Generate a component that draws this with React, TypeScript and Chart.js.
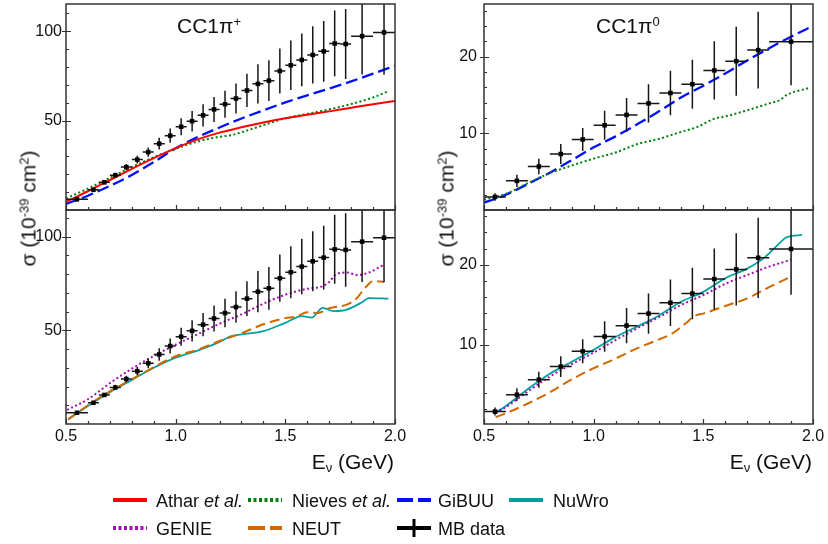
import React, { useEffect, useRef } from "react";
import { Chart, registerables } from "chart.js";

Chart.register(...registerables);

const FONT = "'Liberation Sans', Arial, Helvetica, sans-serif";

// ---------------- tick labels ----------------
const X_MAJOR_TICKS = [0.5, 1.0, 1.5, 2.0];
const X_MINOR_TICKS = [0.6, 0.7, 0.8, 0.9, 1.1, 1.2, 1.3, 1.4, 1.6, 1.7, 1.8, 1.9];
const PIP_Y_MAJOR_TICKS = [50, 100];
const PIP_Y_MINOR_TICKS = [10, 20, 30, 40, 60, 70, 80, 90, 110];
const PI0_Y_MAJOR_TICKS = [10, 20];
const PI0_Y_MINOR_TICKS = [2, 4, 6, 8, 12, 14, 16, 18, 22, 24, 26];

// ---------------- MiniBooNE CC1pi+ data ----------------
const PIP_E = [0.55, 0.625, 0.675, 0.725, 0.775, 0.825, 0.875, 0.925, 0.975, 1.025, 1.075, 1.125, 1.175, 1.225, 1.275, 1.325, 1.375, 1.425, 1.475, 1.525, 1.575, 1.625, 1.675, 1.725, 1.775, 1.85, 1.95];
const PIP_BIN_LO = [0.5, 0.6, 0.65, 0.7, 0.75, 0.8, 0.85, 0.9, 0.95, 1.0, 1.05, 1.1, 1.15, 1.2, 1.25, 1.3, 1.35, 1.4, 1.45, 1.5, 1.55, 1.6, 1.65, 1.7, 1.75, 1.8, 1.9];
const PIP_BIN_HI = [0.6, 0.65, 0.7, 0.75, 0.8, 0.85, 0.9, 0.95, 1.0, 1.05, 1.1, 1.15, 1.2, 1.25, 1.3, 1.35, 1.4, 1.45, 1.5, 1.55, 1.6, 1.65, 1.7, 1.75, 1.8, 1.9, 2.0];
const PIP_SIGMA = [6.0, 11.3, 15.5, 19.5, 24.0, 28.2, 32.4, 37.1, 41.6, 46.6, 49.7, 53.0, 56.3, 59.2, 62.4, 66.9, 70.6, 72.4, 77.8, 81.0, 84.0, 86.8, 88.8, 93.2, 92.9, 97.3, 99.4];
const PIP_ERR = [0.5, 0.8, 1.1, 1.4, 1.8, 2.2, 2.6, 3.3, 4.0, 4.8, 5.7, 6.2, 7.0, 7.6, 8.4, 9.3, 11.0, 11.4, 12.6, 13.9, 14.8, 16.0, 17.0, 18.4, 19.6, 21.5, 23.7];

// ---------------- MiniBooNE CC1pi0 data ----------------
const PI0_E = [0.55, 0.65, 0.75, 0.85, 0.95, 1.05, 1.15, 1.25, 1.35, 1.45, 1.55, 1.65, 1.75, 1.9];
const PI0_BIN_LO = [0.5, 0.6, 0.7, 0.8, 0.9, 1.0, 1.1, 1.2, 1.3, 1.4, 1.5, 1.6, 1.7, 1.8];
const PI0_BIN_HI = [0.6, 0.7, 0.8, 0.9, 1.0, 1.1, 1.2, 1.3, 1.4, 1.5, 1.6, 1.7, 1.8, 2.0];
const PI0_SIGMA = [1.7, 3.8, 5.67, 7.3, 9.2, 11.05, 12.4, 13.9, 15.25, 16.4, 18.2, 19.4, 20.85, 21.95];
const PI0_ERR = [0.5, 0.8, 1.0, 1.3, 1.5, 1.9, 2.2, 2.5, 2.9, 3.2, 3.8, 4.5, 5.0, 5.7];

// ---------------- CC1pi+ theory curves ----------------
const ATHAR_PIP_E = [0.5, 0.6, 0.7, 0.8, 0.9, 1.0, 1.1, 1.2, 1.3, 1.4, 1.5, 1.6, 1.7, 1.8, 1.9, 2.0];
const ATHAR_PIP_V = [4.5, 10.5, 16.8, 23.0, 29.0, 34.6, 39.5, 43.3, 46.3, 49.0, 51.3, 53.3, 55.2, 57.2, 59.2, 61.0];
const NIEVES_PIP_E = [0.5, 0.6, 0.7, 0.8, 0.9, 1.0, 1.1, 1.2, 1.25, 1.3, 1.4, 1.5, 1.6, 1.7, 1.8, 1.9, 1.97];
const NIEVES_PIP_V = [6.5, 12.0, 18.0, 24.0, 29.5, 34.3, 38.3, 41.0, 41.8, 43.5, 47.5, 51.3, 53.8, 56.3, 59.3, 63.0, 66.5];
const GIBUU_PIP_E = [0.5, 0.6, 0.7, 0.8, 0.9, 1.0, 1.1, 1.2, 1.3, 1.4, 1.5, 1.6, 1.7, 1.8, 1.9, 2.0];
const GIBUU_PIP_V = [3.4, 8.0, 13.5, 19.6, 26.8, 34.5, 40.8, 46.2, 51.2, 55.8, 60.2, 64.2, 68.0, 72.0, 76.3, 80.8];
const GENIE_PIP_E = [0.505, 0.6, 0.7, 0.8, 0.9, 1.0, 1.1, 1.2, 1.3, 1.4, 1.5, 1.6, 1.67, 1.7, 1.73, 1.78, 1.83, 1.88, 1.95];
const GENIE_PIP_V = [7.5, 13.2, 21.8, 29.5, 36.3, 42.3, 47.9, 53.5, 58.5, 64.2, 69.0, 72.2, 73.5, 75.8, 79.8, 80.8, 79.5, 80.8, 85.0];
const NEUT_PIP_E = [0.51, 0.6, 0.7, 0.8, 0.9, 1.0, 1.1, 1.2, 1.3, 1.4, 1.5, 1.55, 1.6, 1.65, 1.7, 1.78, 1.82, 1.87, 1.9, 1.95];
const NEUT_PIP_V = [2.5, 10.0, 17.4, 23.8, 30.3, 36.2, 39.6, 44.3, 48.4, 53.2, 56.5, 57.3, 59.6, 59.3, 61.8, 63.7, 66.5, 73.5, 76.3, 75.8];
const NUWRO_PIP_E = [0.51, 0.6, 0.7, 0.8, 0.9, 1.0, 1.1, 1.2, 1.25, 1.3, 1.4, 1.5, 1.575, 1.62, 1.67, 1.72, 1.78, 1.85, 1.88, 1.97];
const NUWRO_PIP_V = [2.5, 9.6, 17.0, 23.5, 30.0, 35.4, 39.2, 43.8, 46.8, 47.8, 49.6, 54.0, 57.6, 56.8, 62.0, 60.2, 61.0, 65.0, 67.2, 66.9];

// ---------------- CC1pi0 theory curves ----------------
const GIBUU_PI0_E = [0.5, 0.55, 0.6, 0.7, 0.8, 0.9, 1.0, 1.1, 1.2, 1.3, 1.4, 1.5, 1.6, 1.7, 1.8, 1.9, 2.0];
const GIBUU_PI0_V = [0.96, 1.43, 2.0, 3.39, 4.87, 6.5, 8.17, 9.6, 11.2, 12.9, 14.7, 16.2, 17.8, 19.5, 21.1, 22.6, 24.0];
const NIEVES_PI0_E = [0.5, 0.6, 0.7, 0.8, 0.9, 1.0, 1.1, 1.2, 1.3, 1.4, 1.47, 1.55, 1.6, 1.7, 1.8, 1.85, 1.88, 1.98];
const NIEVES_PI0_V = [1.35, 2.1, 3.5, 4.8, 5.8, 6.7, 7.5, 8.6, 9.3, 10.2, 10.8, 11.9, 12.2, 13.0, 13.9, 14.35, 15.0, 15.9];
const NUWRO_PI0_E = [0.553, 0.6, 0.7, 0.8, 0.9, 1.0, 1.1, 1.2, 1.3, 1.4, 1.5, 1.6, 1.7, 1.78, 1.83, 1.88, 1.95];
const NUWRO_PI0_V = [1.58, 2.4, 4.5, 6.4, 7.9, 9.4, 11.0, 12.3, 13.7, 15.4, 16.6, 18.3, 19.5, 20.9, 22.2, 23.4, 23.7];
const GENIE_PI0_E = [0.553, 0.6, 0.7, 0.8, 0.9, 1.0, 1.1, 1.2, 1.3, 1.4, 1.5, 1.6, 1.7, 1.8, 1.9];
const GENIE_PI0_V = [1.5, 2.25, 4.2, 6.05, 7.6, 9.05, 10.6, 12.1, 13.5, 15.0, 16.2, 17.6, 18.7, 19.75, 20.6];
const NEUT_PI0_E = [0.553, 0.6, 0.7, 0.8, 0.9, 1.0, 1.1, 1.2, 1.3, 1.36, 1.42, 1.46, 1.5, 1.6, 1.7, 1.8, 1.9];
const NEUT_PI0_V = [1.0, 1.5, 2.7, 4.1, 5.7, 7.1, 8.3, 9.6, 10.7, 11.45, 12.7, 13.6, 13.9, 14.85, 15.8, 17.2, 18.5];

// ---------------- styles ----------------
const C_ATHAR = "#ff0000";
const C_NIEVES = "#00800a";
const C_GIBUU = "#0010ff";
const C_NUWRO = "#00a0a0";
const C_GENIE = "#a010b0";
const C_NEUT = "#d06800";

type Curve = { e: number[]; v: number[]; color: string; dash: number[]; width: number };
type DataSet = { e: number[]; lo: number[]; hi: number[]; v: number[]; err: number[] };
type PanelCfg = {
  id: string;
  left: number; top: number; width: number; height: number;
  padding: { left: number; top: number; right: number; bottom: number };
  yWidth: number; yPad: number; yMin: number; yMax: number;
  yMajor: number[]; yMinor: number[];
  showX: boolean;
  curves: Curve[];
  data: DataSet;
};

const athar = (e: number[], v: number[]): Curve => ({ e, v, color: C_ATHAR, dash: [], width: 2 });
const nieves = (e: number[], v: number[]): Curve => ({ e, v, color: C_NIEVES, dash: [2, 2.5], width: 2 });
const gibuu = (e: number[], v: number[]): Curve => ({ e, v, color: C_GIBUU, dash: [12, 5], width: 2.3 });
const genie = (e: number[], v: number[]): Curve => ({ e, v, color: C_GENIE, dash: [2, 2.5], width: 2 });
const neut = (e: number[], v: number[]): Curve => ({ e, v, color: C_NEUT, dash: [10, 5], width: 2 });
const nuwro = (e: number[], v: number[]): Curve => ({ e, v, color: C_NUWRO, dash: [], width: 1.8 });

const PIP_DATA: DataSet = { e: PIP_E, lo: PIP_BIN_LO, hi: PIP_BIN_HI, v: PIP_SIGMA, err: PIP_ERR };
const PI0_DATA: DataSet = { e: PI0_E, lo: PI0_BIN_LO, hi: PI0_BIN_HI, v: PI0_SIGMA, err: PI0_ERR };

const PANELS: PanelCfg[] = [
  {
    id: "tl", left: 0, top: 0, width: 414, height: 214,
    padding: { left: 0, top: 4, right: 19, bottom: 4 },
    yWidth: 66, yPad: 4, yMin: 0, yMax: 115.3,
    yMajor: PIP_Y_MAJOR_TICKS, yMinor: PIP_Y_MINOR_TICKS, showX: false,
    curves: [athar(ATHAR_PIP_E, ATHAR_PIP_V), nieves(NIEVES_PIP_E, NIEVES_PIP_V), gibuu(GIBUU_PIP_E, GIBUU_PIP_V)],
    data: PIP_DATA,
  },
  {
    id: "bl", left: 0, top: 206, width: 414, height: 254,
    padding: { left: 0, top: 4, right: 19, bottom: 0 },
    yWidth: 66, yPad: 4, yMin: 0, yMax: 114.2,
    yMajor: PIP_Y_MAJOR_TICKS, yMinor: PIP_Y_MINOR_TICKS, showX: true,
    curves: [genie(GENIE_PIP_E, GENIE_PIP_V), neut(NEUT_PIP_E, NEUT_PIP_V), nuwro(NUWRO_PIP_E, NUWRO_PIP_V)],
    data: PIP_DATA,
  },
  {
    id: "tr", left: 414, top: 0, width: 414, height: 214,
    padding: { left: 0, top: 4, right: 15, bottom: 4 },
    yWidth: 70, yPad: 7, yMin: 0, yMax: 26.86,
    yMajor: PI0_Y_MAJOR_TICKS, yMinor: PI0_Y_MINOR_TICKS, showX: false,
    curves: [nieves(NIEVES_PI0_E, NIEVES_PI0_V), gibuu(GIBUU_PI0_E, GIBUU_PI0_V)],
    data: PI0_DATA,
  },
  {
    id: "br", left: 414, top: 206, width: 414, height: 254,
    padding: { left: 0, top: 4, right: 15, bottom: 0 },
    yWidth: 70, yPad: 7, yMin: 0.15, yMax: 26.8,
    yMajor: PI0_Y_MAJOR_TICKS, yMinor: PI0_Y_MINOR_TICKS, showX: true,
    curves: [genie(GENIE_PI0_E, GENIE_PI0_V), neut(NEUT_PI0_E, NEUT_PI0_V), nuwro(NUWRO_PI0_E, NUWRO_PI0_V)],
    data: PI0_DATA,
  },
];

function makePlugin(cfg: PanelCfg) {
  return {
    id: "frame_" + cfg.id,
    beforeDatasetDraw(chart: any, args: any) {
      if (args.index !== 0) return;
      const { ctx, chartArea: a, scales } = chart;
      const xs = scales.x, ys = scales.y;
      const d = cfg.data;
      ctx.save();
      ctx.beginPath();
      ctx.rect(a.left, a.top, a.right - a.left, a.bottom - a.top);
      ctx.clip();
      ctx.strokeStyle = "#161616";
      ctx.lineWidth = 1.5;
      ctx.beginPath();
      for (let i = 0; i < d.e.length; i++) {
        const px = xs.getPixelForValue(d.e[i]);
        const py = ys.getPixelForValue(d.v[i]);
        ctx.moveTo(xs.getPixelForValue(d.lo[i]), py);
        ctx.lineTo(xs.getPixelForValue(d.hi[i]), py);
        ctx.moveTo(px, ys.getPixelForValue(d.v[i] - d.err[i]));
        ctx.lineTo(px, ys.getPixelForValue(d.v[i] + d.err[i]));
      }
      ctx.stroke();
      ctx.restore();
    },
    afterDraw(chart: any) {
      const { ctx, chartArea: a, scales } = chart;
      const xs = scales.x, ys = scales.y;
      ctx.save();
      ctx.strokeStyle = "#333";
      ctx.lineWidth = 1.5;
      ctx.strokeRect(a.left, a.top, a.right - a.left, a.bottom - a.top);
      ctx.lineWidth = 1.2;
      ctx.beginPath();
      for (const v of X_MINOR_TICKS) {
        const px = Math.round(xs.getPixelForValue(v)) + 0.5;
        ctx.moveTo(px, a.bottom);
        ctx.lineTo(px, a.bottom - 3);
      }
      for (const v of X_MAJOR_TICKS) {
        const px = Math.round(xs.getPixelForValue(v)) + 0.5;
        ctx.moveTo(px, a.bottom);
        ctx.lineTo(px, a.bottom - 5);
      }
      for (const v of cfg.yMinor) {
        const py = Math.round(ys.getPixelForValue(v)) + 0.5;
        ctx.moveTo(a.left, py);
        ctx.lineTo(a.left + 3, py);
      }
      for (const v of cfg.yMajor) {
        const py = Math.round(ys.getPixelForValue(v)) + 0.5;
        ctx.moveTo(a.left - 4, py);
        ctx.lineTo(a.left + 5, py);
      }
      ctx.stroke();
      ctx.restore();
    },
  };
}

function Panel({ cfg }: { cfg: PanelCfg }) {
  const ref = useRef<HTMLCanvasElement>(null);
  useEffect(() => {
    const datasets: any[] = [
      {
        data: cfg.data.e.map((x, i) => ({ x, y: cfg.data.v[i] })),
        showLine: false,
        pointStyle: "rect",
        pointRadius: 3.2,
        pointBackgroundColor: "#000",
        pointBorderColor: "#000",
        pointBorderWidth: 0,
        borderWidth: 0,
      },
      ...cfg.curves.map((c) => ({
        data: c.e.map((x, i) => ({ x, y: c.v[i] })),
        showLine: true,
        borderColor: c.color,
        backgroundColor: c.color,
        borderWidth: c.width,
        borderDash: c.dash,
        pointRadius: 0,
        fill: false,
        cubicInterpolationMode: "monotone",
      })),
    ];
    const chart = new Chart(ref.current as HTMLCanvasElement, {
      type: "scatter",
      data: { datasets },
      options: {
        responsive: false,
        animation: false,
        events: [],
        layout: { padding: cfg.padding },
        plugins: { legend: { display: false }, tooltip: { enabled: false }, title: { display: false } },
        scales: {
          x: {
            type: "linear",
            min: 0.5,
            max: 2.0,
            display: cfg.showX,
            grid: { display: false, drawTicks: false },
            border: { display: false },
            ticks: {
              font: { family: FONT, size: 16 },
              color: "#111",
              padding: 3,
              maxRotation: 0,
              autoSkip: false,
              callback: (v: any) => Number(v).toFixed(1),
            },
            afterBuildTicks: (s: any) => {
              s.ticks = X_MAJOR_TICKS.map((v) => ({ value: v }));
            },
            afterFit: (s: any) => {
              s.height = cfg.showX ? 36 : 0;
              s.paddingLeft = 0;
              s.paddingRight = 0;
            },
          },
          y: {
            type: "linear",
            min: cfg.yMin,
            max: cfg.yMax,
            grid: { display: false, drawTicks: false },
            border: { display: false },
            ticks: {
              font: { family: FONT, size: 16 },
              color: "#111",
              padding: cfg.yPad,
              autoSkip: false,
              callback: (v: any) => String(v),
            },
            afterBuildTicks: (s: any) => {
              s.ticks = cfg.yMajor.map((v) => ({ value: v }));
            },
            afterFit: (s: any) => {
              s.width = cfg.yWidth;
              s.paddingTop = 0;
              s.paddingBottom = 0;
            },
          },
        },
      } as any,
      plugins: [makePlugin(cfg) as any],
    });
    return () => chart.destroy();
  }, [cfg]);
  return (
    <div style={{ position: "absolute", left: cfg.left, top: cfg.top, width: cfg.width, height: cfg.height }}>
      <canvas ref={ref} width={cfg.width} height={cfg.height} style={{ display: "block" }} />
    </div>
  );
}

const SUP: React.CSSProperties = { fontSize: "0.62em", position: "relative", top: "-0.55em", lineHeight: 0, verticalAlign: "baseline" };
const SUB: React.CSSProperties = { fontSize: "0.62em", position: "relative", top: "0.25em", lineHeight: 0, verticalAlign: "baseline" };

function YTitle({ cx, cy }: { cx: number; cy: number }) {
  return (
    <div
      style={{
        position: "absolute", left: cx - 100, top: cy - 10.5, width: 200, height: 21,
        lineHeight: "21px", fontSize: 21, textAlign: "center", whiteSpace: "nowrap",
        transform: "rotate(-90deg)",
      }}
    >
      σ (10<span style={SUP}>-39</span> cm<span style={SUP}>2</span>)
    </div>
  );
}

function XTitle({ right }: { right: number }) {
  return (
    <div
      style={{
        position: "absolute", left: right - 160, top: 451, width: 160, height: 21,
        lineHeight: "21px", fontSize: 21, textAlign: "right", whiteSpace: "nowrap",
      }}
    >
      E<span style={SUB}>ν</span>&nbsp;(GeV)
    </div>
  );
}

type LegendItem = { label: React.ReactNode; x: number; tx: number; y: number; color: string; dash: string; kind: "line" | "data" };
const LEGEND_ITEMS: LegendItem[] = [
  { label: <>Athar <i>et al.</i></>, x: 113, tx: 156, y: 500, color: C_ATHAR, dash: "", kind: "line" },
  { label: <>Nieves <i>et al.</i></>, x: 248, tx: 292, y: 500, color: C_NIEVES, dash: "3 2.5", kind: "line" },
  { label: "GiBUU", x: 397, tx: 438, y: 500, color: C_GIBUU, dash: "16 5", kind: "line" },
  { label: "NuWro", x: 509, tx: 553, y: 500, color: C_NUWRO, dash: "", kind: "line" },
  { label: "GENIE", x: 113, tx: 156, y: 528, color: C_GENIE, dash: "3 2.5", kind: "line" },
  { label: "NEUT", x: 248, tx: 292, y: 528, color: C_NEUT, dash: "17 5", kind: "line" },
  { label: "MB data", x: 397, tx: 438, y: 528, color: "#000", dash: "", kind: "data" },
];

function Legend() {
  return (
    <>
      <svg width={828} height={544} style={{ position: "absolute", left: 0, top: 0, pointerEvents: "none" }}>
        {LEGEND_ITEMS.map((it, i) => (
          <g key={i}>
            <line x1={it.x} x2={it.x + 34} y1={it.y} y2={it.y} stroke={it.color} strokeWidth={4} strokeDasharray={it.dash || undefined} />
            {it.kind === "data" && <line x1={it.x + 17} x2={it.x + 17} y1={it.y - 9} y2={it.y + 9} stroke="#000" strokeWidth={3} />}
          </g>
        ))}
      </svg>
      {LEGEND_ITEMS.map((it, i) => (
        <div
          key={i}
          style={{ position: "absolute", left: it.tx, top: it.y - 8.5, fontSize: 18, lineHeight: "18px", whiteSpace: "nowrap" }}
        >
          {it.label}
        </div>
      ))}
    </>
  );
}

export default function App() {
  return (
    <div
      style={{
        position: "fixed", left: 0, top: 0, width: 828, height: 544, background: "#fff",
        fontFamily: FONT, color: "#111", overflow: "hidden",
      }}
    >
      {PANELS.map((p) => (
        <Panel key={p.id} cfg={p} />
      ))}
      <div style={{ position: "absolute", left: 177, top: 15, fontSize: 21, lineHeight: "21px", whiteSpace: "nowrap" }}>
        CC1π<span style={SUP}>+</span>
      </div>
      <div style={{ position: "absolute", left: 596, top: 15, fontSize: 21, lineHeight: "21px", whiteSpace: "nowrap" }}>
        CC1π<span style={SUP}>0</span>
      </div>
      <YTitle cx={28} cy={208} />
      <YTitle cx={446} cy={208} />
      <XTitle right={394} />
      <XTitle right={812} />
      <Legend />
    </div>
  );
}
